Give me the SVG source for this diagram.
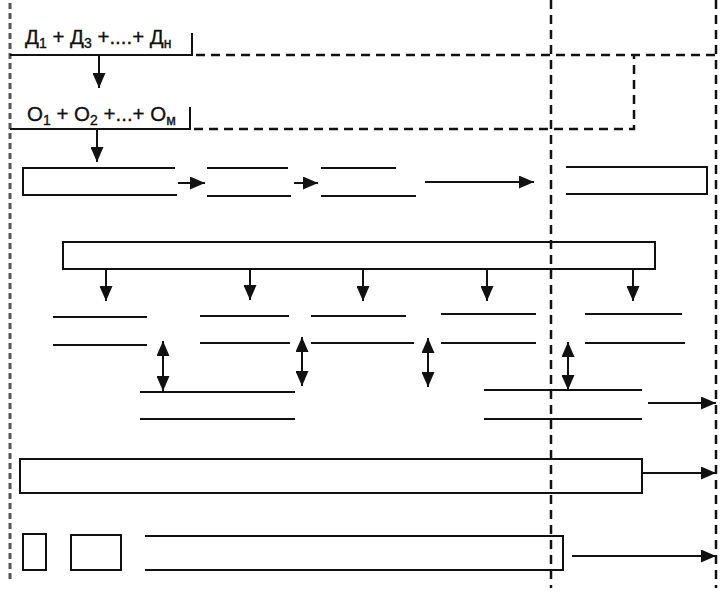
<svg xmlns="http://www.w3.org/2000/svg" width="727" height="604" viewBox="0 0 727 604">
<style>
  .ln{fill:none;stroke:#111;stroke-width:2}
  .dash{fill:none;stroke:#111;stroke-width:2.5;stroke-dasharray:9 6}
  .dashL{fill:none;stroke:#555;stroke-width:3;stroke-dasharray:6 4}
  .ar{fill:none;stroke:#111;stroke-width:2;marker-end:url(#ah)}
  .ar2{fill:none;stroke:#111;stroke-width:2;marker-end:url(#ah);marker-start:url(#ah)}
  .lbl{font-family:"Liberation Sans",Arial,sans-serif;font-size:20.5px;fill:#111;stroke:#111;stroke-width:0.35}
  .sub{font-size:14px}
</style>
<defs>
  <marker id="ah" viewBox="0 0 15 13" refX="15" refY="6.5" markerWidth="15" markerHeight="13" markerUnits="userSpaceOnUse" orient="auto-start-reverse">
    <path d="M0,0 L15,6.5 L0,13 Z" fill="#111"/>
  </marker>
</defs>
<rect width="727" height="604" fill="#fff"/>

<g id="frame">
  <line class="dashL" x1="10" y1="3" x2="10" y2="583"/>
  <line class="dash" x1="551" y1="0" x2="551" y2="588"/>
  <line class="dash" x1="716" y1="0" x2="716" y2="588"/>
  <line class="dash" x1="196" y1="55" x2="716" y2="55"/>
  <polyline class="dash" points="194,129 634,129 634,55"/>
</g>

<g id="sumD">
  <polyline class="ln" points="10,55 192,55 192,33"/>
  <text class="lbl" x="25" y="44">Д<tspan class="sub" dy="4">1</tspan><tspan dy="-4"> + Д</tspan><tspan class="sub" dy="4">3</tspan><tspan dy="-4"> +....+ Д</tspan><tspan class="sub" dy="4">н</tspan></text>
</g>

<g id="sumO">
  <polyline class="ln" points="10,129 190,129 190,107"/>
  <text class="lbl" x="27" y="121">О<tspan class="sub" dy="4">1</tspan><tspan dy="-4"> + О</tspan><tspan class="sub" dy="4">2</tspan><tspan dy="-4"> +...+ О</tspan><tspan class="sub" dy="4">м</tspan></text>
</g>

<g id="n1"><polyline class="ln" points="175,168 23,168 23,195 177,195"/></g>
<g id="n2"><line class="ln" x1="207" y1="168" x2="288" y2="168"/><line class="ln" x1="207" y1="196" x2="291" y2="196"/></g>
<g id="n3"><line class="ln" x1="321" y1="168" x2="396" y2="168"/><line class="ln" x1="321" y1="196" x2="416" y2="196"/></g>
<g id="n4"><polyline class="ln" points="566,167 707,167 707,194 566,194"/></g>

<g id="big"><rect class="ln" x="63" y="242" width="592" height="27"/></g>

<g id="rA"><line class="ln" x1="53" y1="317" x2="147" y2="317"/><line class="ln" x1="53" y1="345" x2="147" y2="345"/></g>
<g id="rB"><line class="ln" x1="200" y1="316" x2="289" y2="316"/><line class="ln" x1="200" y1="343" x2="290" y2="343"/></g>
<g id="rC"><line class="ln" x1="311" y1="316" x2="406" y2="316"/><line class="ln" x1="311" y1="343" x2="414" y2="343"/></g>
<g id="rE"><line class="ln" x1="441" y1="314" x2="536" y2="314"/><line class="ln" x1="441" y1="343" x2="536" y2="343"/></g>
<g id="rF"><line class="ln" x1="585" y1="314" x2="682" y2="314"/><line class="ln" x1="585" y1="343" x2="685" y2="343"/></g>

<g id="rD"><line class="ln" x1="140" y1="392" x2="295" y2="392"/><line class="ln" x1="140" y1="419" x2="295" y2="419"/></g>
<g id="rG"><line class="ln" x1="484" y1="390" x2="642" y2="390"/><line class="ln" x1="484" y1="419" x2="642" y2="419"/></g>

<g id="bH"><rect class="ln" x="20" y="459" width="622" height="34"/></g>
<g id="bI"><rect class="ln" x="23" y="534" width="23" height="36"/></g>
<g id="bJ"><rect class="ln" x="71" y="535" width="50" height="35"/></g>
<g id="bK"><polyline class="ln" points="145,536 563,536 563,570 145,570"/></g>

<g id="connectors">
  <line class="ar" x1="99" y1="55" x2="99" y2="88"/>
  <line class="ar" x1="97" y1="129" x2="97" y2="162"/>
  <line class="ar" x1="178" y1="183" x2="205" y2="183"/>
  <line class="ar" x1="294" y1="183" x2="318" y2="183"/>
  <line class="ar" x1="425" y1="182" x2="534" y2="182"/>
  <line class="ar" x1="106" y1="270" x2="106" y2="301"/>
  <line class="ar" x1="250" y1="270" x2="250" y2="300"/>
  <line class="ar" x1="363" y1="270" x2="363" y2="301"/>
  <line class="ar" x1="487" y1="270" x2="487" y2="301"/>
  <line class="ar" x1="633" y1="270" x2="633" y2="301"/>
  <line class="ar2" x1="163" y1="341" x2="163" y2="391"/>
  <line class="ar2" x1="302" y1="337" x2="302" y2="386"/>
  <line class="ar2" x1="428" y1="338" x2="428" y2="387"/>
  <line class="ar2" x1="568" y1="342" x2="568" y2="390"/>
  <line class="ar" x1="648" y1="403" x2="716" y2="403"/>
  <line class="ar" x1="642" y1="473" x2="716" y2="473"/>
  <line class="ar" x1="572" y1="556" x2="716" y2="556"/>
</g>
</svg>
